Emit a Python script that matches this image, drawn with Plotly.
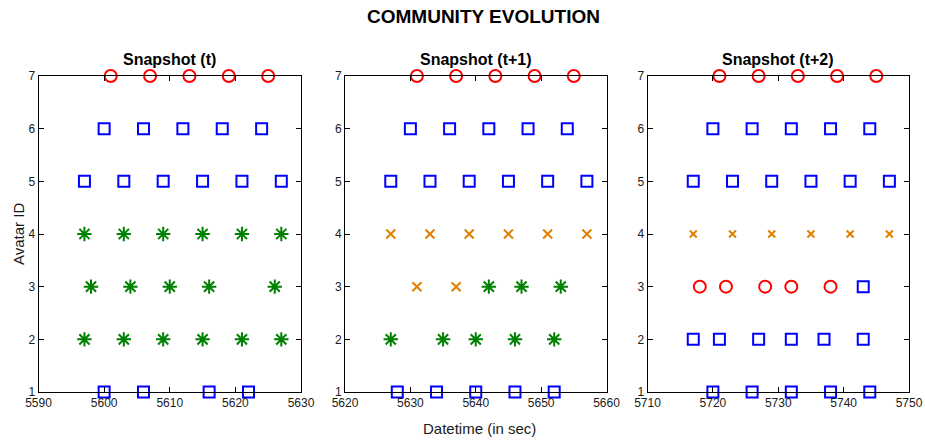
import plotly.graph_objects as go

W, H = 925, 443

# ---------------- data ----------------
panel_titles = ["Snapshot (t)", "Snapshot (t+1)", "Snapshot (t+2)"]
x_ranges = [[5590, 5630], [5620, 5660], [5710, 5750]]
x_ticks = [[5590, 5600, 5610, 5620, 5630],
           [5620, 5630, 5640, 5650, 5660],
           [5710, 5720, 5730, 5740, 5750]]
y_ticks = [1, 2, 3, 4, 5, 6, 7]

# Snapshot (t)
t0_circle_x = [5601, 5607, 5613, 5619, 5625]
t0_circle_y = [7, 7, 7, 7, 7]
t0_square_x = [5600, 5606, 5612, 5618, 5624,
               5597, 5603, 5609, 5615, 5621, 5627,
               5600, 5606, 5616, 5622]
t0_square_y = [6, 6, 6, 6, 6,
               5, 5, 5, 5, 5, 5,
               1, 1, 1, 1]
t0_star_x = [5597, 5603, 5609, 5615, 5621, 5627,
             5598, 5604, 5610, 5616, 5626,
             5597, 5603, 5609, 5615, 5621, 5627]
t0_star_y = [4, 4, 4, 4, 4, 4,
             3, 3, 3, 3, 3,
             2, 2, 2, 2, 2, 2]
t0_cross_x = []
t0_cross_y = []

# Snapshot (t+1)
t1_circle_x = [5631, 5637, 5643, 5649, 5655]
t1_circle_y = [7, 7, 7, 7, 7]
t1_square_x = [5630, 5636, 5642, 5648, 5654,
               5627, 5633, 5639, 5645, 5651, 5657,
               5628, 5634, 5640, 5646, 5652]
t1_square_y = [6, 6, 6, 6, 6,
               5, 5, 5, 5, 5, 5,
               1, 1, 1, 1, 1]
t1_star_x = [5642, 5647, 5653,
             5627, 5635, 5640, 5646, 5652]
t1_star_y = [3, 3, 3,
             2, 2, 2, 2, 2]
t1_cross_x = [5627, 5633, 5639, 5645, 5651, 5657,
              5631, 5637]
t1_cross_y = [4, 4, 4, 4, 4, 4,
              3, 3]

# Snapshot (t+2)
t2_circle_x = [5721, 5727, 5733, 5739, 5745,
               5718, 5722, 5728, 5732, 5738]
t2_circle_y = [7, 7, 7, 7, 7,
               3, 3, 3, 3, 3]
t2_square_x = [5720, 5726, 5732, 5738, 5744,
               5717, 5723, 5729, 5735, 5741, 5747,
               5743,
               5717, 5721, 5727, 5732, 5737, 5743,
               5720, 5726, 5732, 5738, 5744]
t2_square_y = [6, 6, 6, 6, 6,
               5, 5, 5, 5, 5, 5,
               3,
               2, 2, 2, 2, 2, 2,
               1, 1, 1, 1, 1]
t2_star_x = []
t2_star_y = []
t2_cross_x = [5717, 5723, 5729, 5735, 5741, 5747]
t2_cross_y = [4, 4, 4, 4, 4, 4]

panels = [
    (t0_circle_x, t0_circle_y, t0_square_x, t0_square_y, t0_star_x, t0_star_y, t0_cross_x, t0_cross_y),
    (t1_circle_x, t1_circle_y, t1_square_x, t1_square_y, t1_star_x, t1_star_y, t1_cross_x, t1_cross_y),
    (t2_circle_x, t2_circle_y, t2_square_x, t2_square_y, t2_star_x, t2_star_y, t2_cross_x, t2_cross_y),
]
cross_sizes = [9, 9, 7]

# ---------------- layout geometry (window pixels) ----------------
px_left = [38.5, 345, 647.5]
px_right = [301, 606.5, 909]
px_top, px_bottom = 76, 392


def fx(sx):
    return sx / W


def fy(sy):
    return 1 - sy / H


FONT = "Liberation Sans, Arial, Helvetica, sans-serif"
RED, BLUE, GREEN, ORANGE = "#ff0000", "#0000ff", "#008000", "#e08000"

fig = go.Figure()

for i, (cx, cy, sx, sy, stx, sty, xx, xy) in enumerate(panels):
    xa = "x" if i == 0 else f"x{i+1}"
    ya = "y" if i == 0 else f"y{i+1}"
    common = dict(xaxis=xa, yaxis=ya, mode="markers", showlegend=False, cliponaxis=False)
    if cx:
        fig.add_trace(go.Scatter(x=cx, y=cy, marker=dict(symbol="circle-open", size=12, color=RED,
                                                         line=dict(width=2, color=RED)), **common))
    if sx:
        fig.add_trace(go.Scatter(x=sx, y=sy, marker=dict(symbol="square-open", size=11, color=BLUE,
                                                         line=dict(width=2, color=BLUE)), **common))
    if stx:
        fig.add_trace(go.Scatter(x=stx, y=sty, marker=dict(symbol="asterisk-open", size=12, color=GREEN,
                                                           line=dict(width=2, color=GREEN)), **common))
    if xx:
        fig.add_trace(go.Scatter(x=xx, y=xy, marker=dict(symbol="x-thin-open", size=cross_sizes[i], color=ORANGE,
                                                         line=dict(width=2, color=ORANGE)), **common))

layout = dict(
    width=W, height=H, autosize=False,
    margin=dict(l=0, r=0, t=0, b=0, pad=0, autoexpand=False),
    paper_bgcolor="white", plot_bgcolor="white",
    font=dict(family=FONT, size=12, color="#1a1a1a"),
    showlegend=False,
)

y_dom = [fy(px_bottom), fy(px_top)]
for i in range(3):
    xkey = "xaxis" if i == 0 else f"xaxis{i+1}"
    ykey = "yaxis" if i == 0 else f"yaxis{i+1}"
    xa = "x" if i == 0 else f"x{i+1}"
    layout[xkey] = dict(
        domain=[fx(px_left[i]), fx(px_right[i])], anchor=("y" if i == 0 else f"y{i+1}"),
        range=x_ranges[i], tickmode="array", tickvals=x_ticks[i], automargin=False,
        ticks="inside", ticklen=5, tickwidth=1, tickcolor="black",
        showline=True, linecolor="black", linewidth=1, mirror="ticks",
        showgrid=False, zeroline=False, tickfont=dict(size=12, color="#1a1a1a"),
    )
    layout[ykey] = dict(
        domain=y_dom, anchor=xa,
        range=[1, 7], tickmode="array", tickvals=y_ticks, automargin=False,
        ticks="inside", ticklen=5, tickwidth=1, tickcolor="black",
        showline=True, linecolor="black", linewidth=1, mirror="ticks",
        showgrid=False, zeroline=False, tickfont=dict(size=12, color="#1a1a1a"),
    )

annotations = [
    dict(text="<b>COMMUNITY EVOLUTION</b>", x=fx(483), y=fy(16), xref="paper", yref="paper",
         xanchor="center", yanchor="middle", showarrow=False, font=dict(size=19, color="black")),
    dict(text="Avatar ID", x=fx(18), y=fy(234), xref="paper", yref="paper", textangle=-90,
         xanchor="center", yanchor="middle", showarrow=False, font=dict(size=15, color="#1a1a1a")),
    dict(text="Datetime (in sec)", x=fx(479), y=fy(428), xref="paper", yref="paper",
         xanchor="center", yanchor="middle", showarrow=False, font=dict(size=15, color="#1a1a1a")),
]
for i in range(3):
    annotations.append(dict(text=f"<b>{panel_titles[i]}</b>", x=fx((px_left[i] + px_right[i]) / 2),
                            y=fy(60), xref="paper", yref="paper", xanchor="center", yanchor="middle",
                            showarrow=False, font=dict(size=16, color="black")))
layout["annotations"] = annotations

fig.update_layout(**layout)

# remove the page's default 8px body margin so the figure fills the window exactly
page_fix = ("document.body.style.margin='0';"
            "document.documentElement.style.overflow='hidden';"
            "document.body.style.overflow='hidden';")
fig.write_html("out.html", post_script=page_fix, config={"displayModeBar": False})
